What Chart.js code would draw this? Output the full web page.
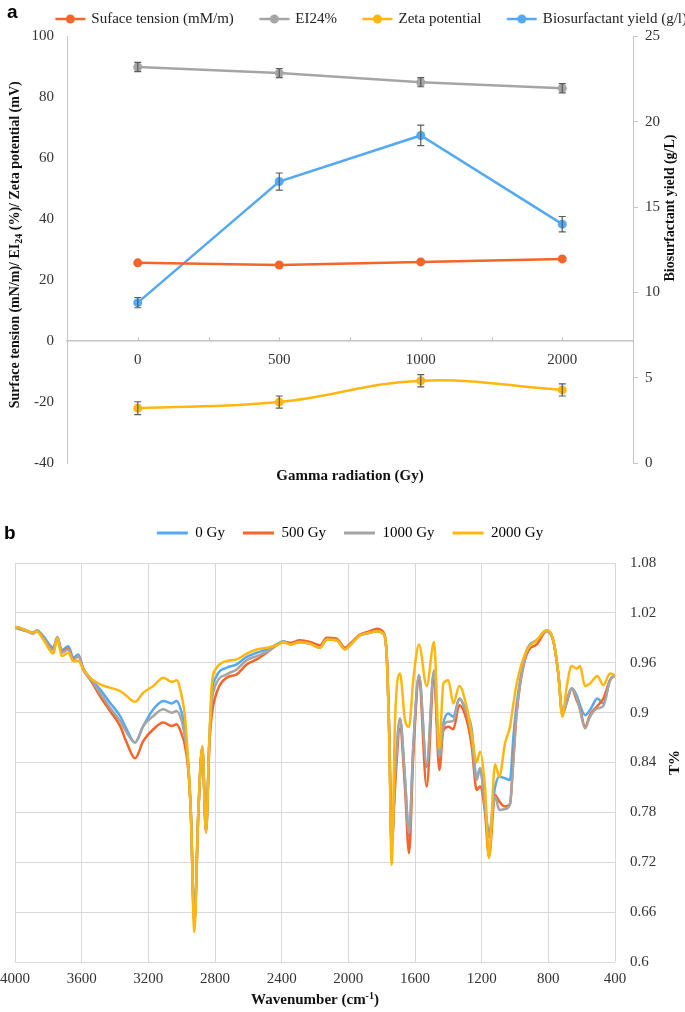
<!DOCTYPE html>
<html><head><meta charset="utf-8">
<script src="https://cdn.jsdelivr.net/npm/chart.js@4.4.1/dist/chart.umd.min.js"></script>
<style>
html,body{margin:0;padding:0;background:#fff;}
#wrap{position:relative;width:685px;height:1012px;overflow:hidden;background:#fff;}
canvas{position:absolute;left:0;}
#ca{top:0;} #cb{top:490px;}
.lbl{position:absolute;font:bold 19px "Liberation Sans",Arial,sans-serif;color:#000;line-height:22px;}
</style></head><body>
<div id="wrap">
<canvas id="ca" width="685" height="490"></canvas>
<canvas id="cb" width="685" height="522"></canvas>
<div class="lbl" style="left:7px;top:1px">a</div>
<div class="lbl" style="left:4px;top:522px">b</div>
</div>
<script>
// ---------- Chart a data ----------
const doses = ['0', '500', '1000', '2000'];
const surfaceTension = [25.7, 25.0, 26.0, 27.0];
const ei24 = [90, 88, 85, 83];
const zetaPotential = [-22, -20, -13, -16];
const biosurfactantYield = [9.4, 16.5, 19.2, 14.0];
const errSurface = [0, 0, 0, 0];
const errEI = [1.5, 1.5, 1.5, 1.5];
const errZeta = [2.1, 2.0, 2.0, 2.0];
const errYield = [0.3, 0.5, 0.6, 0.45];
const leftTicksA = [-40, -20, 0, 20, 40, 60, 80, 100];
const rightTicksA = [0, 5, 10, 15, 20, 25];

// ---------- Chart b data ----------
const wavenumbers = [4000,3970,3930,3890,3870,3830,3770,3746,3720,3680,
 3650,3620,3590,3550,3490,3430,3370,3330,3280,3230,
 3170,3110,3060,3030,3000,2980,2960,2945,2924,2900,
 2876,2854,2834,2820,2790,2730,2670,2610,2550,2490,
 2430,2390,2350,2290,2230,2170,2130,2070,2020,1990,
 1930,1870,1830,1790,1770,1754,1740,1720,1690,1660,
 1636,1610,1576,1530,1486,1454,1430,1400,1370,1334,
 1290,1260,1230,1210,1180,1156,1120,1094,1060,1030,
 1010,990,930,870,810,770,740,716,690,660,
 630,610,580,550,506,470,430,400];
const t0Gy = [1.003,1.002,0.999,0.996,0.999,0.992,0.978,0.991,0.975,0.980,
 0.966,0.970,0.953,0.942,0.928,0.912,0.896,0.880,0.864,0.884,
 0.904,0.914,0.911,0.914,0.900,0.880,0.836,0.780,0.650,0.780,
 0.858,0.758,0.866,0.920,0.944,0.954,0.958,0.967,0.972,0.976,
 0.982,0.986,0.983,0.985,0.983,0.979,0.988,0.987,0.977,0.982,
 0.993,0.996,0.998,0.995,0.970,0.870,0.740,0.820,0.893,0.820,
 0.751,0.860,0.945,0.835,0.949,0.847,0.887,0.899,0.895,0.917,
 0.899,0.880,0.820,0.833,0.790,0.755,0.810,0.823,0.821,0.819,
 0.870,0.910,0.975,0.987,0.999,0.987,0.947,0.899,0.915,0.929,
 0.921,0.909,0.897,0.903,0.917,0.911,0.939,0.945];
const t500Gy = [1.003,1.001,0.998,0.996,0.998,0.990,0.976,0.990,0.973,0.977,
 0.964,0.968,0.952,0.940,0.920,0.902,0.884,0.864,0.845,0.866,
 0.880,0.888,0.884,0.886,0.874,0.860,0.830,0.780,0.645,0.780,
 0.858,0.756,0.860,0.896,0.924,0.942,0.946,0.958,0.964,0.972,
 0.981,0.985,0.984,0.987,0.985,0.981,0.990,0.989,0.978,0.983,
 0.994,0.998,1.001,0.997,0.970,0.870,0.740,0.810,0.881,0.810,
 0.731,0.850,0.939,0.811,0.945,0.831,0.879,0.883,0.880,0.909,
 0.891,0.860,0.807,0.811,0.780,0.727,0.801,0.793,0.787,0.790,
 0.845,0.900,0.970,0.982,0.998,0.986,0.946,0.899,0.912,0.929,
 0.915,0.905,0.883,0.897,0.908,0.917,0.939,0.945];
const t1000Gy = [1.002,1.000,0.998,0.995,0.998,0.990,0.975,0.990,0.972,0.976,
 0.963,0.968,0.951,0.941,0.924,0.906,0.890,0.876,0.864,0.884,
 0.896,0.904,0.900,0.902,0.890,0.870,0.836,0.780,0.648,0.780,
 0.858,0.758,0.866,0.912,0.936,0.946,0.952,0.963,0.968,0.973,
 0.981,0.985,0.982,0.985,0.983,0.978,0.988,0.987,0.976,0.981,
 0.993,0.996,0.998,0.995,0.970,0.870,0.740,0.820,0.893,0.820,
 0.755,0.860,0.945,0.837,0.951,0.847,0.883,0.889,0.890,0.917,
 0.899,0.870,0.819,0.833,0.785,0.750,0.799,0.783,0.784,0.790,
 0.840,0.900,0.973,0.987,0.998,0.986,0.946,0.897,0.912,0.929,
 0.918,0.903,0.881,0.895,0.905,0.908,0.939,0.944];
const t2000Gy = [1.003,1.002,0.999,0.996,0.998,0.988,0.971,0.990,0.968,0.972,
 0.962,0.962,0.952,0.942,0.934,0.930,0.926,0.920,0.913,0.924,
 0.932,0.942,0.937,0.939,0.920,0.895,0.836,0.780,0.636,0.780,
 0.860,0.756,0.868,0.932,0.954,0.962,0.964,0.971,0.976,0.978,
 0.981,0.985,0.982,0.985,0.983,0.978,0.988,0.987,0.976,0.981,
 0.993,0.996,0.998,0.995,0.970,0.860,0.717,0.890,0.947,0.891,
 0.883,0.940,0.982,0.932,0.985,0.857,0.935,0.939,0.911,0.932,
 0.907,0.875,0.840,0.853,0.810,0.725,0.838,0.823,0.863,0.883,
 0.910,0.935,0.975,0.987,0.999,0.987,0.947,0.895,0.931,0.956,
 0.953,0.956,0.932,0.935,0.944,0.933,0.947,0.945];
const xTicksB = [4000, 3600, 3200, 2800, 2400, 2000, 1600, 1200, 800, 400];
const yTicksB = [0.6, 0.66, 0.72, 0.78, 0.84, 0.9, 0.96, 1.02, 1.08];

// ---------- styles ----------
const SERIF = '"Liberation Serif","Times New Roman",serif';
const COL = {orange:'#F4652A', gray:'#A5A5A5', yellow:'#FFB70F', blue:'#55A8F2'};
const TICK = '#333333';
const AXIS = '#C4C4C4';
Chart.defaults.font.family = SERIF;
Chart.defaults.font.size = 15;
Chart.defaults.color = TICK;

function makeTitles(items) {
  return {id:'axisTitles', afterDraw(chart) {
    const ctx = chart.ctx, ca = chart.chartArea;
    items.forEach(it => {
      const p = it.pos(ca);
      ctx.save();
      ctx.translate(p.x, p.y); ctx.rotate(it.rot || 0);
      ctx.fillStyle = '#111'; ctx.textBaseline = 'middle'; ctx.textAlign = 'left';
      const big = 'bold ' + it.size + 'px ' + SERIF;
      const small = 'bold ' + Math.round(it.size * 0.68) + 'px ' + SERIF;
      let total = 0;
      it.parts.forEach(q => { ctx.font = (q.sub || q.sup) ? small : big; total += ctx.measureText(q.t).width; });
      let x = -total / 2;
      it.parts.forEach(q => {
        ctx.font = (q.sub || q.sup) ? small : big;
        const dy = q.sub ? 4 : (q.sup ? -4 : 0);
        ctx.fillText(q.t, x, dy);
        x += ctx.measureText(q.t).width;
      });
      ctx.restore();
    });
  }};
}

const errorBars = {id:'errorBars', afterDatasetsDraw(chart) {
  const ctx = chart.ctx;
  ctx.save(); ctx.strokeStyle = '#5b5b5b'; ctx.lineWidth = 1.2;
  chart.data.datasets.forEach((ds, i) => {
    if (!ds.errors) return;
    const meta = chart.getDatasetMeta(i);
    const ys = chart.scales[meta.yAxisID];
    meta.data.forEach((pt, j) => {
      const e = ds.errors[j]; if (!e) return;
      const x = pt.x, y1 = ys.getPixelForValue(ds.data[j] + e), y2 = ys.getPixelForValue(ds.data[j] - e);
      ctx.beginPath();
      ctx.moveTo(x, y1); ctx.lineTo(x, y2);
      ctx.moveTo(x - 3.5, y1); ctx.lineTo(x + 3.5, y1);
      ctx.moveTo(x - 3.5, y2); ctx.lineTo(x + 3.5, y2);
      ctx.stroke();
    });
  });
  ctx.restore();
}};

const catTicks = {id:'catTicks', afterDraw(chart) {
  const xs = chart.scales.x, ys = chart.scales.y, ctx = chart.ctx;
  const y0 = ys.getPixelForValue(0), n = xs.ticks.length, step = (xs.right - xs.left) / n;
  ctx.save(); ctx.strokeStyle = AXIS; ctx.lineWidth = 1;
  for (let k = 1; k < 2 * n; k++) {
    const x = Math.round(xs.left + k * step / 2) + 0.5;
    ctx.beginPath(); ctx.moveTo(x, y0); ctx.lineTo(x, y0 - 4); ctx.stroke();
  }
  ctx.restore();
}};

function marker(color) {
  const c = document.createElement('canvas'); c.width = 48; c.height = 12;
  const g = c.getContext('2d');
  g.strokeStyle = color; g.lineWidth = 2.5;
  g.beginPath(); g.moveTo(17.5, 6); g.lineTo(47.5, 6); g.stroke();
  g.fillStyle = color; g.beginPath(); g.arc(32.5, 6, 4.5, 0, Math.PI * 2); g.fill();
  return c;
}

// ---------- Chart a ----------
const colorsA = [COL.orange, COL.gray, COL.yellow, COL.blue];
const markersA = colorsA.map(marker);
new Chart(document.getElementById('ca'), {
  type: 'line',
  data: {labels: doses, datasets: [
    {label:'Suface tension (mM/m)', data:surfaceTension, errors:errSurface, borderColor:COL.orange, backgroundColor:COL.orange, yAxisID:'y', tension:0},
    {label:'EI24%', data:ei24, errors:errEI, borderColor:COL.gray, backgroundColor:COL.gray, yAxisID:'y', tension:0},
    {label:'Zeta potential', data:zetaPotential, errors:errZeta, borderColor:COL.yellow, backgroundColor:COL.yellow, yAxisID:'y', tension:0.4},
    {label:'Biosurfactant yield (g/l)', data:biosurfactantYield, errors:errYield, borderColor:COL.blue, backgroundColor:COL.blue, yAxisID:'y1', tension:0}
  ]},
  options: {
    responsive:false, animation:false, events:[],
    layout:{padding:{left:0, right:-12, top:1.5, bottom:27}},
    elements:{point:{radius:4.5, borderWidth:0, hoverRadius:4.5}, line:{borderWidth:2.5}},
    scales: {
      x: {type:'category', position:{y:0}, offset:true,
          grid:{display:false, drawTicks:false}, border:{color:AXIS, width:1.5},
          ticks:{padding:10, color:TICK, font:{size:15}}},
      y: {position:'left', min:-40, max:100,
          afterBuildTicks: s => { s.ticks = leftTicksA.map(v => ({value:v})); },
          afterFit: s => { s.width = 67; },
          grid:{display:false, drawTicks:false}, border:{color:AXIS, width:1},
          ticks:{padding:13, color:TICK, font:{size:15}}},
      y1: {position:'right', min:0, max:25,
          afterBuildTicks: s => { s.ticks = rightTicksA.map(v => ({value:v})); },
          afterFit: s => { s.width = 64; },
          grid:{display:true, drawOnChartArea:false, tickLength:5, color:AXIS}, border:{color:AXIS, width:1},
          ticks:{padding:7, color:TICK, font:{size:15}}}
    },
    plugins: {
      tooltip:{enabled:false},
      legend:{position:'top', align:'end', maxHeight:36,
        labels:{usePointStyle:true, pointStyleWidth:44, padding:10, color:'#222', font:{size:15},
          generateLabels: chart => Chart.defaults.plugins.legend.labels.generateLabels(chart).map((it, i) => Object.assign(it, {pointStyle: markersA[i], fillStyle: colorsA[i], strokeStyle: colorsA[i]}))}}
    }
  },
  plugins: [errorBars, catTicks, makeTitles([
    {parts:[{t:'Surface tension (mN/m)/ EI'}, {t:'24', sub:true}, {t:' (%)/ Zeta potential (mV)'}], size:14, rot:-Math.PI/2, pos: ca => ({x:15, y:(ca.top + ca.bottom)/2 - 5})},
    {parts:[{t:'Biosurfactant yield (g/L)'}], size:14, rot:-Math.PI/2, pos: ca => ({x:670, y:208})},
    {parts:[{t:'Gamma radiation (Gy)'}], size:15, rot:0, pos: ca => ({x:(ca.left + ca.right)/2, y:ca.bottom + 13})}
  ])]
});

// ---------- Chart b ----------
const seriesB = [
  {label:'0 Gy', vals:t0Gy, color:COL.blue, order:4},
  {label:'500 Gy', vals:t500Gy, color:COL.orange, order:3},
  {label:'1000 Gy', vals:t1000Gy, color:COL.gray, order:2},
  {label:'2000 Gy', vals:t2000Gy, color:COL.yellow, order:1}
];
new Chart(document.getElementById('cb'), {
  type: 'line',
  data: {datasets: seriesB.map(s => ({
    label:s.label, data: wavenumbers.map((w, i) => ({x:w, y:s.vals[i]})),
    borderColor:s.color, backgroundColor:s.color, order:s.order
  }))},
  options: {
    responsive:false, animation:false, events:[],
    layout:{padding:{left:15, right:0, top:17.5, bottom:24}},
    elements:{point:{radius:0, hoverRadius:0}, line:{borderWidth:2.5, cubicInterpolationMode:'monotone'}},
    scales: {
      x: {type:'linear', reverse:true, min:400, max:4000,
          afterBuildTicks: s => { s.ticks = xTicksB.map(v => ({value:v})); },
          grid:{color:'#D9D9D9', drawTicks:true, tickLength:8, tickColor:'rgba(0,0,0,0)'}, border:{display:false},
          ticks:{padding:0, color:TICK, font:{size:15}, callback: v => String(v)}},
      pad: {type:'linear', position:'top', display:true,
          ticks:{display:false}, grid:{display:false, drawTicks:false}, border:{display:false},
          afterFit: s => { s.height = 12.5; }},
      y: {position:'right', min:0.6, max:1.08,
          afterBuildTicks: s => { s.ticks = yTicksB.map(v => ({value:v})); },
          afterFit: s => { s.width = 70; },
          grid:{color:'#D9D9D9', drawTicks:false}, border:{display:false},
          ticks:{padding:15, color:TICK, font:{size:15}, callback: v => String(+Number(v).toFixed(2))}}
    },
    plugins: {
      tooltip:{enabled:false},
      legend:{position:'top',
        labels:{boxWidth:31, boxHeight:3, padding:18, color:'#222', font:{size:15},
          generateLabels: chart => chart.data.datasets.map((d, i) => ({text:d.label, fillStyle:d.borderColor, strokeStyle:d.borderColor, lineWidth:0, datasetIndex:i, hidden:false}))}}
    }
  },
  plugins: [makeTitles([
    {parts:[{t:'T%'}], size:15, rot:-Math.PI/2, pos: ca => ({x:675, y:(ca.top + ca.bottom)/2})},
    {parts:[{t:'Wavenumber (cm'}, {t:'-1', sup:true}, {t:')'}], size:15, rot:0, pos: ca => ({x:(ca.left + ca.right)/2, y:ca.bottom + 38})}
  ])]
});
</script>
</body></html>
